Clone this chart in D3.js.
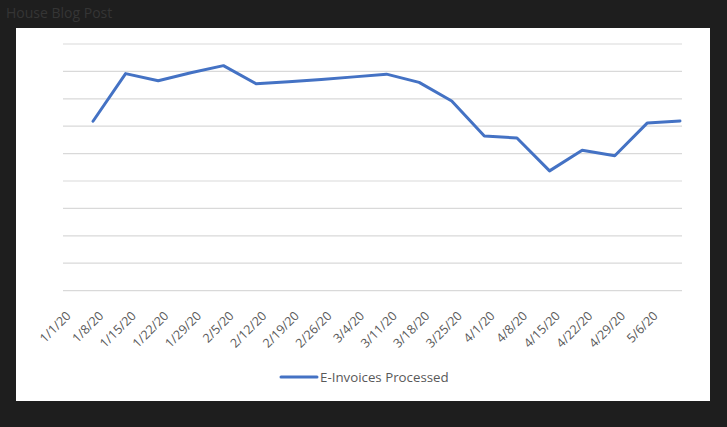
<!DOCTYPE html>
<html>
<head>
<meta charset="utf-8">
<script src="https://cdn.jsdelivr.net/npm/d3@7"></script>
<style>
  html, body { margin: 0; padding: 0; background: #1e1e1e; }
  svg { display: block; }
</style>
</head>
<body>
<script>
// Weekly dates (category labels)
var weeks = ["1/1/20", "1/8/20", "1/15/20", "1/22/20", "1/29/20", "2/5/20", "2/12/20",
  "2/19/20", "2/26/20", "3/4/20", "3/11/20", "3/18/20", "3/25/20", "4/1/20",
  "4/8/20", "4/15/20", "4/22/20", "4/29/20", "5/6/20"];

// E-Invoices processed per week (axis labels hidden)
var invoices = [618, 792, 766, 795, 821, 755, 762, 770, 780, 790, 760, 692,
  564, 557, 437, 512, 492, 612, 619];

// Gridline values
var yTicks = [0, 100, 200, 300, 400, 500, 600, 700, 800, 900];

var seriesName = "E-Invoices Processed";

var width = 727, height = 427;

var svg = d3.select("body")
  .append("svg")
  .attr("width", width)
  .attr("height", height);

// faint page text behind the dark overlay
svg.append("text")
  .attr("x", 6)
  .attr("y", 18)
  .attr("fill", "#353535")
  .style("font-family", "Open Sans, sans-serif")
  .style("font-size", "14px")
  .text("House Blog Post");

// white chart panel
svg.append("rect")
  .attr("x", 16)
  .attr("y", 28)
  .attr("width", 694)
  .attr("height", 373)
  .attr("fill", "#ffffff");

var x = d3.scalePoint()
  .domain(weeks)
  .range([93, 680]);

var y = d3.scaleLinear()
  .domain([0, 900])
  .range([290.6, 44]);

// Gridlines
svg.append("g")
  .selectAll("line")
  .data(yTicks)
  .join("line")
  .attr("x1", 63)
  .attr("x2", 682)
  .attr("y1", d => y(d))
  .attr("y2", d => y(d))
  .attr("stroke", "#d9d9d9")
  .attr("stroke-width", 1.2);

// X axis labels
var xAxis = svg.append("g")
  .attr("transform", "translate(0," + y(0) + ")")
  .call(d3.axisBottom(x).tickSize(0));

xAxis.select(".domain").remove();

xAxis.selectAll(".tick text")
  .attr("fill", "#595959")
  .style("font-family", "Open Sans, sans-serif")
  .style("font-size", "12.5px")
  .attr("text-anchor", "end")
  .attr("y", 0)
  .attr("dy", "0.35em")
  .attr("transform", "translate(-25,23) rotate(-45)");

// Line
var line = d3.line()
  .x((d, i) => x(weeks[i]))
  .y(d => y(d));

svg.append("path")
  .datum(invoices)
  .attr("fill", "none")
  .attr("stroke", "#4472c4")
  .attr("stroke-width", 3)
  .attr("stroke-linejoin", "round")
  .attr("stroke-linecap", "round")
  .attr("d", line);

// Legend
var legend = svg.append("g")
  .attr("transform", "translate(281,377)");

legend.append("line")
  .attr("x1", 0)
  .attr("x2", 36)
  .attr("stroke", "#4472c4")
  .attr("stroke-width", 3)
  .attr("stroke-linecap", "round");

legend.append("text")
  .attr("x", 39)
  .attr("dy", "0.35em")
  .attr("fill", "#595959")
  .style("font-family", "Open Sans, sans-serif")
  .style("font-size", "13.3px")
  .text(seriesName);
</script>
</body>
</html>
